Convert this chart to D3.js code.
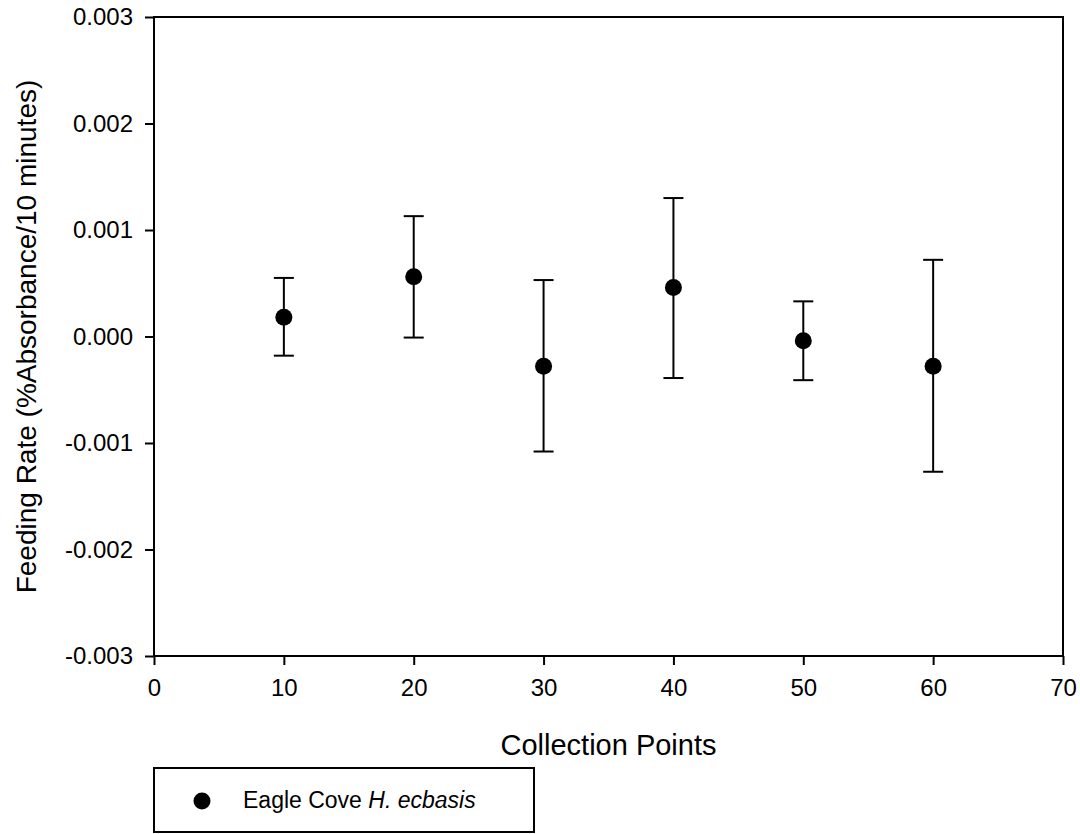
<!DOCTYPE html>
<html>
<head>
<meta charset="utf-8">
<script src="https://cdn.jsdelivr.net/npm/d3@7"></script>
<style>
  body { margin: 0; background: #fff; }
  svg { display: block; font-family: "Liberation Sans", Arial, sans-serif; }
</style>
</head>
<body>
<svg width="1080" height="834"></svg>
<script>
// collection points and feeding rates
const points = [10, 20, 30, 40, 50, 60];
const means  = [0.00018, 0.00056, -0.00028, 0.00046, -0.00004, -0.00028];
const upper  = [0.00055, 0.00113, 0.00053, 0.00130, 0.00033, 0.00072];
const lower  = [-0.00018, -0.00001, -0.00108, -0.00039, -0.00041, -0.00127];

const xTicks = [0, 10, 20, 30, 40, 50, 60, 70];
const yTicks = [-0.003, -0.002, -0.001, 0, 0.001, 0.002, 0.003];
const legendLabel = "Eagle Cove ";
const legendItalic = "H. ecbasis";

let svg = d3.select("svg");

const plotL = 154, plotT = 17, plotR = 1063, plotB = 656;

let x = d3.scaleLinear().domain([0, 70]).range([plotL, plotR]);
let y = d3.scaleLinear().domain([-0.003, 0.003]).range([plotB, plotT]);

// frame
svg.append("rect")
  .attr("x", plotL).attr("y", plotT)
  .attr("width", plotR - plotL).attr("height", plotB - plotT)
  .attr("fill", "none").attr("stroke", "#000").attr("stroke-width", 2);

let xAxis = svg.append("g")
  .attr("transform", `translate(0,${plotB})`)
  .call(d3.axisBottom(x).tickValues(xTicks).tickSize(9).tickPadding(14).tickFormat(d3.format("d")));

let yAxis = svg.append("g")
  .attr("transform", `translate(${plotL},0)`)
  .call(d3.axisLeft(y).tickValues(yTicks).tickSize(9).tickPadding(12).tickFormat(d => d.toFixed(3)));

[xAxis, yAxis].forEach(a => {
  a.select(".domain").remove();
  a.selectAll("line").attr("stroke", "#000").attr("stroke-width", 2);
  a.selectAll("text")
    .attr("fill", "#000")
    .style("font-size", "24px")
    .style("font-family", "Liberation Sans, Arial, sans-serif");
});

// axis titles
svg.append("text")
  .attr("x", (plotL + plotR) / 2)
  .attr("y", 755)
  .attr("text-anchor", "middle")
  .style("font-size", "29px")
  .text("Collection Points");

svg.append("text")
  .attr("transform", `translate(36,${(plotT + plotB) / 2}) rotate(-90)`)
  .attr("text-anchor", "middle")
  .style("font-size", "28px")
  .text("Feeding Rate (%Absorbance/10 minutes)");

// error bars
let data = points.map((p, i) => ({p: p, m: means[i], hi: upper[i], lo: lower[i]}));
const cap = 10;

let bars = svg.append("g").selectAll("g")
  .data(data)
  .enter().append("g")
  .attr("stroke", "#000")
  .attr("stroke-width", 2);

bars.append("line")
  .attr("x1", d => x(d.p)).attr("x2", d => x(d.p))
  .attr("y1", d => y(d.hi)).attr("y2", d => y(d.lo));
bars.append("line")
  .attr("x1", d => x(d.p) - cap).attr("x2", d => x(d.p) + cap)
  .attr("y1", d => y(d.hi)).attr("y2", d => y(d.hi));
bars.append("line")
  .attr("x1", d => x(d.p) - cap).attr("x2", d => x(d.p) + cap)
  .attr("y1", d => y(d.lo)).attr("y2", d => y(d.lo));

svg.append("g").selectAll("circle")
  .data(data)
  .enter().append("circle")
  .attr("cx", d => x(d.p))
  .attr("cy", d => y(d.m))
  .attr("r", 8.5)
  .attr("fill", "#000");

// legend
let legend = svg.append("g");
legend.append("rect")
  .attr("x", 154).attr("y", 768)
  .attr("width", 380).attr("height", 64)
  .attr("fill", "none").attr("stroke", "#000").attr("stroke-width", 2);
legend.append("circle")
  .attr("cx", 202).attr("cy", 801).attr("r", 8.5).attr("fill", "#000");
let lt = legend.append("text")
  .attr("x", 243).attr("y", 808)
  .style("font-size", "23px");
lt.append("tspan").text(legendLabel);
lt.append("tspan").style("font-style", "italic").text(legendItalic);
</script>
</body>
</html>
